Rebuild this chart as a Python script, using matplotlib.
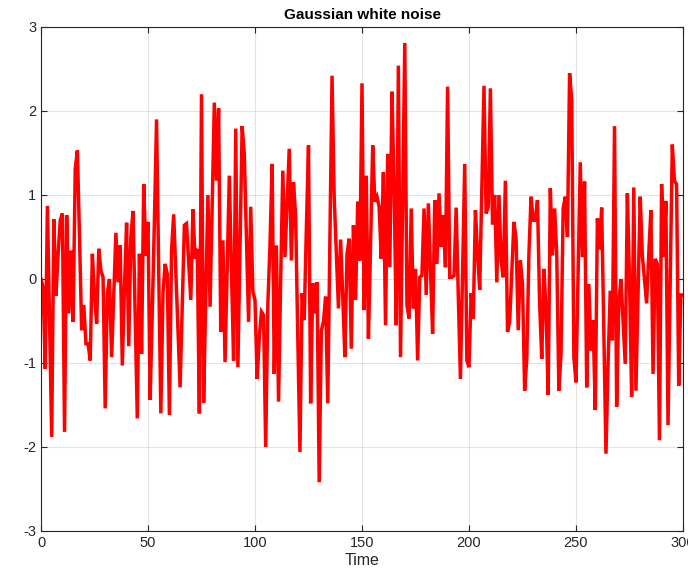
import numpy as np
import matplotlib
matplotlib.use("Agg")
import matplotlib.pyplot as plt

# Noise samples (index 0..300)
noise = [
    0.0, -0.1, -1.07, 0.87, -0.5, -1.88, 0.71, -0.2, 0.3, 0.7,
    0.78, -1.82, 0.76, -0.41, 0.34, -0.51, 1.31, 1.53, 0.5, -0.61,
    -0.31, -0.77, -0.77, -0.97, 0.3, -0.2, -0.53, 0.36, 0.1, 0.02,
    -1.54, -0.17, 0.0, -0.93, -0.2, 0.55, -0.04, 0.4, -1.03, -0.1,
    0.67, -0.8, 0.5, 0.81, -0.4, -1.66, 0.3, -0.89, 1.13, 0.28,
    0.68, -1.44, -0.4, 0.7, 1.9, 0.1, -1.6, -0.17, 0.18, 0.06,
    -1.62, 0.34, 0.77, 0.1, -0.6, -1.29, -0.3, 0.64, 0.66, 0.2,
    -0.25, 0.83, 0.24, 0.36, -1.6, 2.2, -1.47, -0.2, 1.0, -0.33,
    0.9, 2.1, 1.17, 2.03, -0.63, 0.46, -0.99, 0.1, 1.23, 0.1,
    -0.97, 1.79, -1.05, 0.4, 1.82, 1.49, 0.5, -0.51, 0.86, -0.15,
    -0.25, -1.19, -0.7, -0.39, -0.43, -2.0, -0.3, 0.4, 1.37, -1.13,
    0.4, -1.46, 0.0, 1.29, 0.26, 0.9, 1.55, 0.22, 1.15, 0.74,
    -0.7, -2.06, -0.17, -0.49, 0.6, 1.59, -1.48, -0.05, -0.41, -0.04,
    -2.42, -0.61, -0.51, -0.21, -1.48, 0.5, 2.42, 0.98, 0.3, -0.35,
    0.47, -0.2, -0.93, 0.3, 0.48, -0.83, 0.64, -0.25, 0.92, 0.22,
    2.33, -0.37, 1.23, -0.71, 0.4, 1.59, 0.92, 0.98, 0.86, 0.24,
    1.27, -0.55, 1.49, 0.14, 2.23, 1.1, -0.55, 2.54, -0.93, 0.9,
    2.81, -0.31, -0.47, 0.84, -0.35, 0.12, -0.97, 0.02, 0.04, 0.84,
    -0.19, 0.9, 0.1, -0.65, 0.94, 0.18, 1.02, 0.38, 0.76, 0.14,
    2.29, 0.02, 0.02, 0.04, 0.85, -0.2, -1.19, 0.1, 1.37, -0.97,
    -1.05, -0.17, -0.47, 0.82, 0.3, -0.13, 1.1, 2.3, 0.78, 0.86,
    2.27, 0.65, 1.0, -0.04, 1.0, 0.22, 0.02, 1.17, -0.63, -0.51,
    0.1, 0.68, 0.48, -0.61, 0.22, -0.06, -1.33, -0.95, 0.3, 0.98,
    0.7, 0.7, 0.94, -0.29, -0.95, 0.12, -0.37, -1.38, 1.08, 0.28,
    0.84, 0.3, -1.33, -0.89, 0.84, 0.98, 0.5, 2.45, 2.13, -0.93,
    -1.23, 0.1, 1.39, 0.26, 1.16, -1.29, -0.06, -0.85, -0.49, -1.56,
    0.72, 0.35, 0.85, -0.6, -2.08, -1.0, -0.14, -0.73, 1.82, -1.52,
    -0.29, 0.0, -0.5, -1.01, 1.02, 0.0, -1.4, 1.09, -1.33, -0.2,
    0.98, 0.28, 0.0, -0.29, 0.3, 0.82, -1.13, 0.24, 0.18, -1.92,
    1.13, 0.26, 0.93, -1.74, -0.1, 1.6, 1.17, 1.13, -1.27, -0.19,
    -0.19,
]
time = np.arange(len(noise))

x_ticks = [0, 50, 100, 150, 200, 250, 300]
y_ticks = [-3, -2, -1, 0, 1, 2, 3]

plt.rcParams['font.family'] = ['Liberation Sans', 'DejaVu Sans']
plt.rcParams['axes.unicode_minus'] = False
dark = (0.15, 0.15, 0.15)

fig = plt.figure(figsize=(6.88, 5.76), dpi=100)
ax = fig.add_axes([41 / 688, 45 / 576, 642 / 688, 504 / 576])

ax.plot(time, noise, color="red", linewidth=2.5, solid_joinstyle="miter")

ax.set_xlim(0, 300)
ax.set_ylim(-3, 3)
ax.set_xticks(x_ticks)
ax.set_yticks(y_ticks)
ax.grid(True, color=(0.15, 0.15, 0.15), alpha=0.12, linewidth=0.8)
ax.set_axisbelow(True)

for side in ax.spines.values():
    side.set_color(dark)
    side.set_linewidth(0.8)
ax.tick_params(direction="in", length=4, width=0.8, colors=dark,
               labelsize=10.5, top=True, right=True)

ax.set_title("Gaussian white noise", fontsize=11, fontweight="bold", pad=6)
ax.set_xlabel("Time", fontsize=11.5, color=dark, labelpad=2)

# the reference is cropped at the right edge, so the last x label is cut
fig.savefig("out.png", dpi=100)
